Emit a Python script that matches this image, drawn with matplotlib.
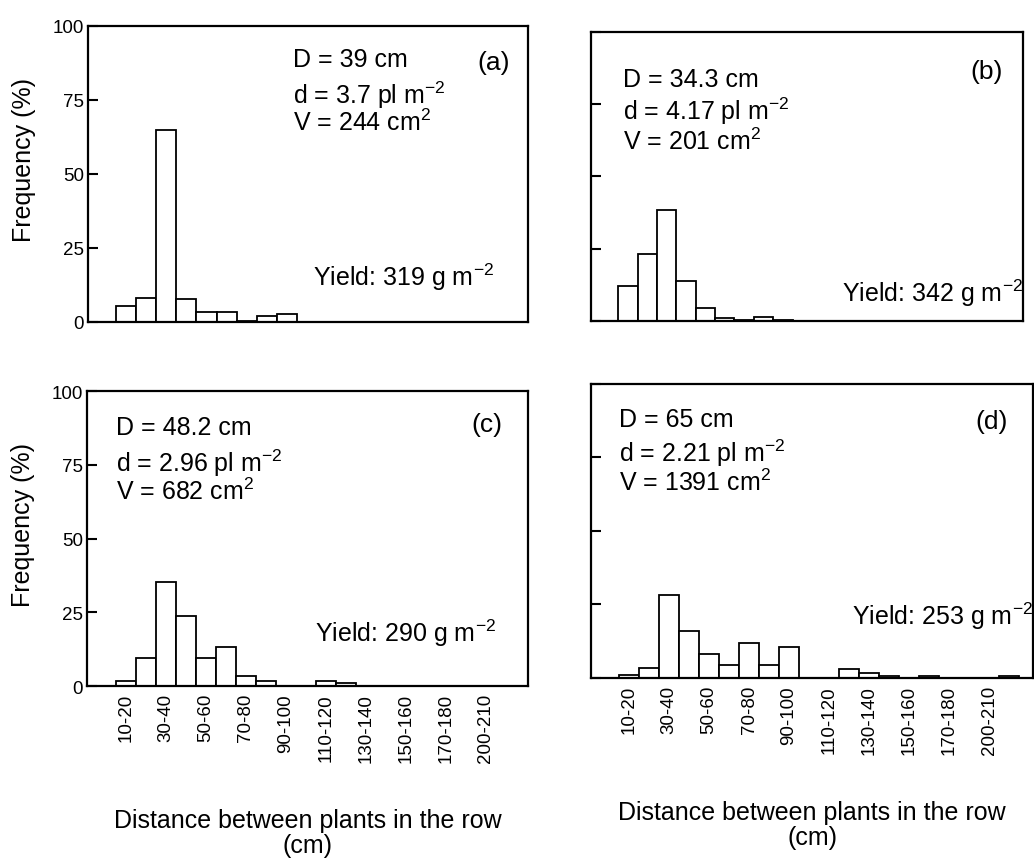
#!/bin/env python3

'''
Frequency of the distance between plants in the row, four plots
'''

import numpy as np
import matplotlib
matplotlib.use("Agg")
import matplotlib.pyplot as plt


##############################################################
# Data
##############################################################
# bins of 10 cm, only every other bin gets a label
tick_labels = ["10-20", "30-40", "50-60", "70-80", "90-100", "110-120",
               "130-140", "150-160", "170-180", "200-210"]

freq_a = [5.3, 8.1, 65.0, 7.6, 3.3, 3.3, 0.5, 1.9, 2.7, 0,
          0, 0, 0, 0, 0, 0, 0, 0, 0, 0]
freq_b = [12.2, 23.3, 38.5, 13.9, 4.4, 1.1, 0.3, 1.2, 0.3, 0,
          0, 0, 0, 0, 0, 0, 0, 0, 0, 0]
freq_c = [1.7, 9.6, 35.1, 23.8, 9.6, 13.3, 3.4, 1.7, 0, 0,
          1.7, 0.9, 0, 0, 0, 0, 0, 0, 0, 0]
freq_d = [1.1, 3.4, 28.2, 15.9, 8.2, 4.5, 11.9, 4.5, 10.6, 0,
          0, 3.2, 1.7, 0.6, 0, 0.7, 0, 0, 0, 0.6]

panel_names = ["(a)", "(b)", "(c)", "(d)"]
mean_dist = ["D = 39 cm", "D = 34.3 cm", "D = 48.2 cm", "D = 65 cm"]
density = ["d = 3.7 pl m$^{-2}$", "d = 4.17 pl m$^{-2}$",
           "d = 2.96 pl m$^{-2}$", "d = 2.21 pl m$^{-2}$"]
variance = ["V = 244 cm$^{2}$", "V = 201 cm$^{2}$",
            "V = 682 cm$^{2}$", "V = 1391 cm$^{2}$"]
yields = ["Yield: 319 g m$^{-2}$", "Yield: 342 g m$^{-2}$",
          "Yield: 290 g m$^{-2}$", "Yield: 253 g m$^{-2}$"]

plt.rcParams['font.family'] = ['Liberation Sans', 'DejaVu Sans']
plt.rcParams['mathtext.default'] = 'regular'


##############################################################
# Plot
##############################################################
def draw_panel(ax, freq, idx, pos):
    '''
    Draws one histogram panel with its text block

    Args:
        ax: the axes to draw on
        freq (list): frequency (%) per bin
        idx (int): panel number 0-3
        pos (dict): where the texts go (axes fraction)
    '''
    x = np.arange(len(freq))
    ax.bar(x, freq, width=1.0, color="white",
           edgecolor="black", linewidth=1.3)

    ax.set_ylim(0, 100)
    ax.set_xlim(pos["xlim"])
    ax.set_yticks([0, 25, 50, 75, 100])
    ax.set_xticks(x[::2][:len(tick_labels)])
    ax.tick_params(axis="y", direction="in", length=7, width=1.5,
                   labelsize=13.5, pad=3)
    ax.tick_params(axis="x", length=0, labelsize=13.5, pad=5)

    if idx in (0, 1):
        ax.set_xticklabels([])
    else:
        ax.set_xticklabels(tick_labels, rotation=90)
        ax.set_xlabel("Distance between plants in the row\n(cm)",
                      fontsize=18, labelpad=33, linespacing=1.05)

    if idx in (0, 2):
        ax.set_ylabel("Frequency (%)", fontsize=18)
        ax.yaxis.set_label_coords(-0.118, 0.55)
    else:
        ax.set_yticklabels([])

    for s in ax.spines.values():
        s.set_linewidth(1.6)

    fs = 18
    x0 = pos["left"]
    ax.text(x0, pos["D"], mean_dist[idx], transform=ax.transAxes,
            fontsize=fs, va="center")
    ax.text(x0, pos["d"], density[idx], transform=ax.transAxes,
            fontsize=fs, va="center")
    ax.text(x0, pos["V"], variance[idx], transform=ax.transAxes,
            fontsize=fs, va="center")
    ax.text(pos["name"][0], pos["name"][1], panel_names[idx],
            transform=ax.transAxes, fontsize=fs + 1, ha="right", va="center")
    ax.text(pos["yld"][0], pos["yld"][1], yields[idx],
            transform=ax.transAxes, fontsize=fs, va="center", clip_on=False)


fig = plt.figure(figsize=(10.34, 8.62), dpi=100)

# axes boxes in figure fraction
boxes = [
    [0.0851, 0.6253, 0.4255, 0.3434],
    [0.5716, 0.6265, 0.4178, 0.3353],
    [0.0841, 0.2030, 0.4265, 0.3422],
    [0.5716, 0.2123, 0.4275, 0.3411],
]
layout = [
    dict(xlim=(-1.9, 20.0), left=0.466, D=0.889, d=0.768, V=0.676,
         name=(0.959, 0.878), yld=(0.511, 0.155)),
    dict(xlim=(-1.9, 20.4), left=0.074, D=0.837, d=0.728, V=0.623,
         name=(0.954, 0.865), yld=(0.581, 0.100)),
    dict(xlim=(-1.95, 20.1), left=0.066, D=0.878, d=0.758, V=0.661,
         name=(0.943, 0.888), yld=(0.517, 0.183)),
    dict(xlim=(-1.9, 20.2), left=0.063, D=0.881, d=0.768, V=0.667,
         name=(0.943, 0.874), yld=(0.590, 0.214)),
]

all_freq = [freq_a, freq_b, freq_c, freq_d]
for i in range(4):
    ax = fig.add_axes(boxes[i])
    draw_panel(ax, all_freq[i], i, layout[i])

fig.savefig("out.png", dpi=100, facecolor="white")
